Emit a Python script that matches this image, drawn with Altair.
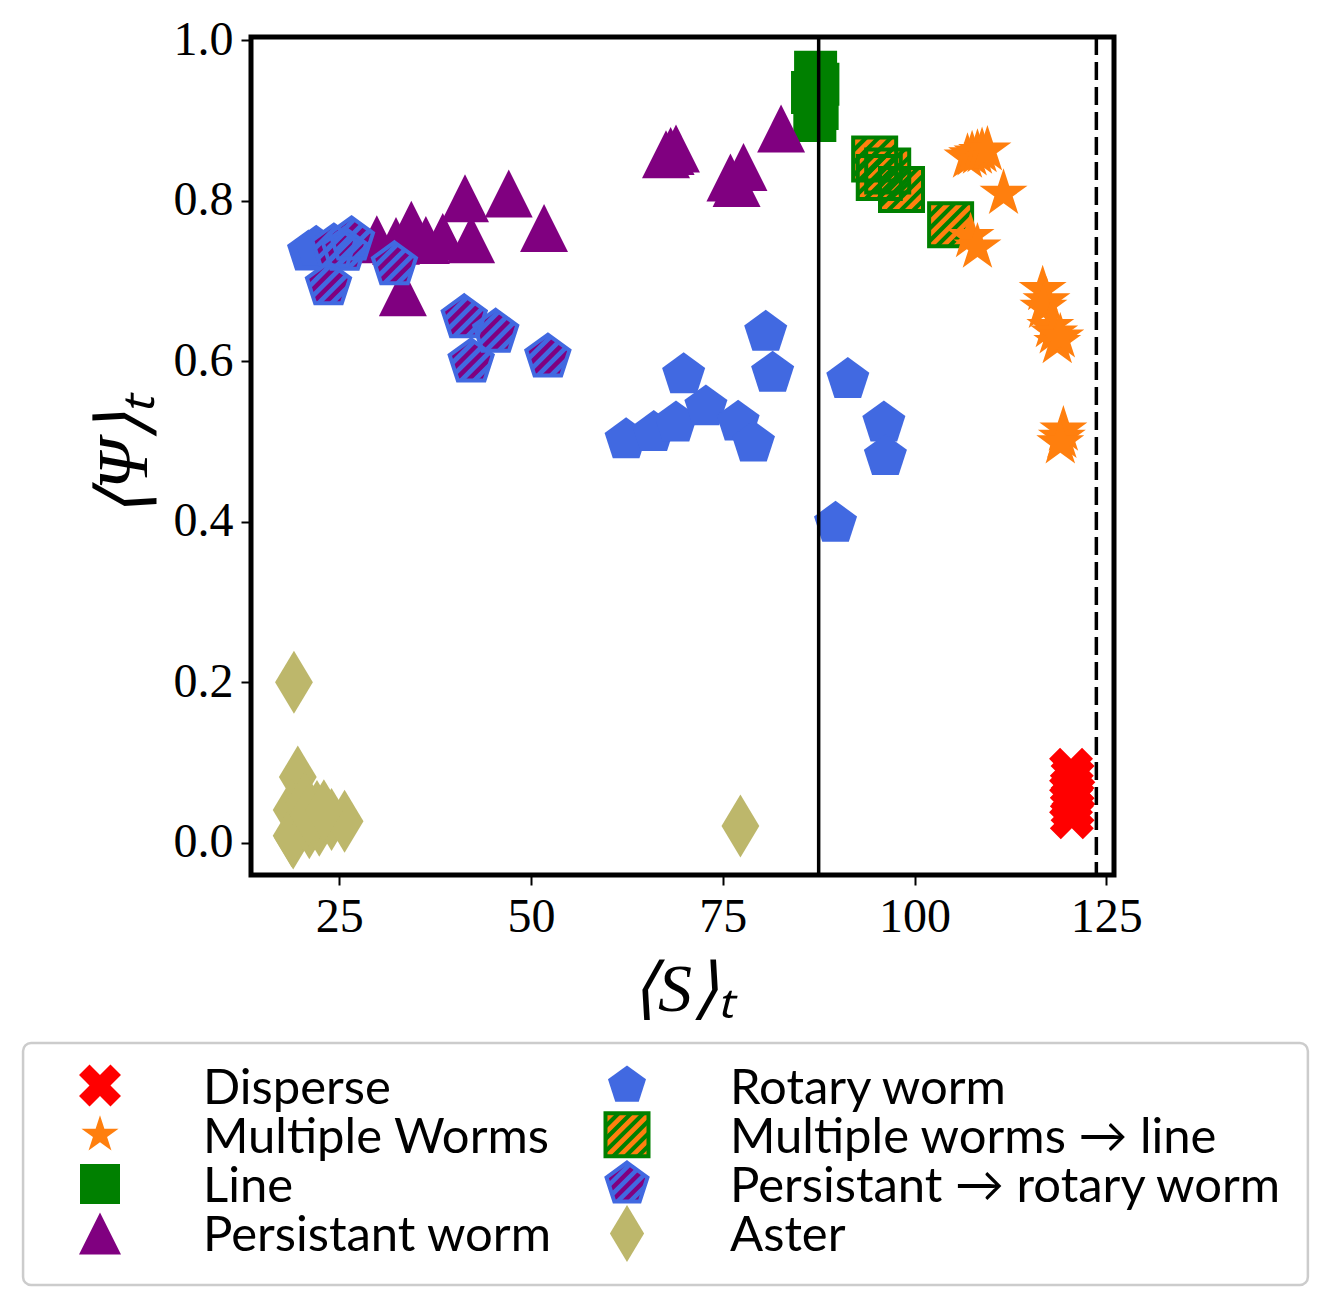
import math
import altair as alt
import pandas as pd

# ---------------- data ----------------
disperse_x = [120.4, 120.6, 120.5, 120.7, 120.4, 120.6, 120.5]
disperse_y = [0.091, 0.082, 0.070, 0.062, 0.052, 0.042, 0.032]

mworms_x = [106.9, 107.5, 108.2, 108.8, 109.5, 111.6, 107.3, 108.2, 116.7, 117.2, 116.8,
            117.7, 118.2, 118.6, 119.0, 119.4, 119.2, 119.0]
mworms_y = [0.854, 0.857, 0.859, 0.861, 0.863, 0.809, 0.755, 0.742, 0.689, 0.675, 0.667,
            0.643, 0.635, 0.623, 0.630, 0.514, 0.505, 0.498]

line_x = [87.1, 87.4, 86.7, 87.3, 87.0]
line_y = [0.960, 0.945, 0.935, 0.915, 0.900]

persist_x = [29.9, 34.4, 36.3, 38.5, 41.4, 42.2, 47.1, 51.7, 33.3, 32.4,
             68.2, 67.6, 68.9, 77.7, 76.0, 76.8, 82.6]
persist_y = [0.752, 0.770, 0.751, 0.755, 0.803, 0.752, 0.809, 0.766, 0.686, 0.750,
             0.862, 0.858, 0.865, 0.842, 0.829, 0.822, 0.890]

rotary_x = [80.6, 81.5, 69.9, 62.4, 66.0, 68.9, 72.8, 77.0, 79.0, 91.3, 96.0, 96.2, 89.7, 21.0, 22.0]
rotary_y = [0.636, 0.585, 0.583, 0.502, 0.511, 0.523, 0.543, 0.524, 0.498, 0.577, 0.523, 0.481, 0.398, 0.736, 0.742]

mw_line_x = [94.8, 95.4, 96.5, 98.3, 104.7]
mw_line_y = [0.852, 0.829, 0.837, 0.814, 0.770]

p_rot_x = [25.7, 24.3, 26.6, 23.6, 32.2, 41.3, 45.4, 42.2, 52.2]
p_rot_y = [0.738, 0.742, 0.751, 0.695, 0.720, 0.654, 0.636, 0.599, 0.605]

aster_x = [19.1, 19.6, 18.8, 19.0, 18.8, 21.1, 22.4, 24.0, 25.7, 22.1, 20.5, 21.0, 23.0, 77.3]
aster_y = [0.200, 0.082, 0.041, 0.006, 0.009, 0.019, 0.022, 0.029, 0.027, 0.039, 0.050, 0.035, 0.040, 0.021]

vline_solid = [87.5]
vline_dashed = [123.7]

x_ticks = [25, 50, 75, 100, 125]
y_ticks = [0.0, 0.2, 0.4, 0.6, 0.8, 1.0]

legend_labels = ["Disperse", "Multiple Worms", "Line", "Persistant worm",
                 "Rotary worm", "Multiple worms \u2192 line", "Persistant \u2192 rotary worm", "Aster"]
legend_col = [0, 0, 0, 0, 1, 1, 1, 1]
legend_row = [0, 1, 2, 3, 0, 1, 2, 3]
legend_box_col = [-0.146, 2.292]
legend_box_row = [-0.862, 4.047]

# ---------------- styles ----------------
RED, ORANGE, GREEN, PURPLE, BLUE, KHAKI = "#ff0000", "#ff7f0e", "#008000", "#800080", "#4169e1", "#bdb76b"
SERIF = "Liberation Serif"
SANS = "Lato"


def to_path(pts):
    return "M" + "L".join(f"{x:.4f},{y:.4f}" for x, y in pts) + "Z"


def clip(poly, a, b, d):
    out = []
    n = len(poly)
    for i in range(n):
        p, q = poly[i], poly[(i + 1) % n]
        fp = a * p[0] + b * p[1] - d
        fq = a * q[0] + b * q[1] - d
        if fp <= 0:
            out.append(p)
        if (fp < 0 < fq) or (fq < 0 < fp):
            t = fp / (fp - fq)
            out.append((p[0] + t * (q[0] - p[0]), p[1] + t * (q[1] - p[1])))
    return out


def hatch(poly, period, width, start):
    parts = []
    c = start
    while c < 2.2:
        band = clip(poly, -1, -1, -c)
        band = clip(band, 1, 1, c + width)
        if len(band) >= 3:
            parts.append(to_path(band))
        c += period
    return "".join(parts)


SQUARE = [(-1, -1), (1, -1), (1, 1), (-1, 1)]
PENT = [(math.cos(math.radians(-90 + 72 * k)), math.sin(math.radians(-90 + 72 * k))) for k in range(5)]
TRI = [(0, -1), (1, 1), (-1, 1)]
DIAM = [(0, -1), (0.6, 0), (0, 1), (-0.6, 0)]
STAR = []
for k in range(5):
    a1 = math.radians(-90 + 72 * k)
    a2 = math.radians(-90 + 36 + 72 * k)
    STAR.append((math.cos(a1), math.sin(a1)))
    STAR.append((0.382 * math.cos(a2), 0.382 * math.sin(a2)))
_plus = [(-1, -3), (1, -3), (1, -1), (3, -1), (3, 1), (1, 1), (1, 3), (-1, 3), (-1, 1), (-3, 1), (-3, -1), (-1, -1)]
_r = math.sqrt(2) / 2
XSH = [(((px - py) * _r) / 2.83, ((px + py) * _r) / 2.83) for px, py in _plus]

P_SQUARE, P_PENT, P_TRI, P_DIAM, P_STAR, P_X = map(to_path, [SQUARE, PENT, TRI, DIAM, STAR, XSH])
H_SQUARE = hatch(SQUARE, 0.58, 0.27, -2.1)
H_PENT = hatch(PENT, 0.58, 0.3, -2.1)

X_SCALE = alt.Scale(domain=[13.5, 126.0], nice=False, zero=False)
Y_SCALE = alt.Scale(domain=[-0.04, 1.004], nice=False, zero=False)

X_AXIS = alt.Axis(values=x_ticks, format="d", title="\u27e8S\u27e9\u209c", grid=False, domain=False,
                  tickColor="black", tickWidth=2, tickSize=10, labelFont=SERIF, labelFontSize=48,
                  labelColor="black", labelPadding=8, titleFont=SERIF, titleFontSize=68,
                  titleFontWeight="normal", titleFontStyle="italic", titleColor="black", titlePadding=15)
Y_AXIS = alt.Axis(values=y_ticks, format=".1f", title="\u27e8\u03a8\u27e9\u209c", grid=False, domain=False,
                  tickColor="black", tickWidth=2, tickSize=10, labelFont=SERIF, labelFontSize=48,
                  labelColor="black", labelPadding=8, titleFont=SERIF, titleFontSize=72,
                  titleFontWeight="normal", titleFontStyle="italic", titleColor="black", titlePadding=12)


def frame(xs, ys):
    return pd.DataFrame({"x": xs, "y": ys})


def pts(df, path, size, **mk):
    return alt.Chart(df).mark_point(shape=path, size=size, opacity=1, **mk).encode(
        x=alt.X("x:Q", scale=X_SCALE, axis=X_AXIS),
        y=alt.Y("y:Q", scale=Y_SCALE, axis=Y_AXIS),
    )


def filled(df, path, size, color):
    return pts(df, path, size, filled=True, color=color, strokeWidth=0)


def outline(df, path, size, color, w=4):
    return pts(df, path, size, filled=False, color=color, strokeWidth=w)


d_line = frame(line_x, line_y)
d_mwl = frame(mw_line_x, mw_line_y)
d_mw = frame(mworms_x, mworms_y)
d_dis = frame(disperse_x, disperse_y)
d_per = frame(persist_x, persist_y)
d_rot = frame(rotary_x, rotary_y)
d_prot = frame(p_rot_x, p_rot_y)
d_ast = frame(aster_x, aster_y)

S_SQ, S_PENT, S_TRI, S_STAR, S_X, S_DIAM = 1850, 2050, 2300, 2540, 1936, 3970

rule_solid = alt.Chart(pd.DataFrame({"x": vline_solid})).mark_rule(color="black", strokeWidth=3.5).encode(
    x=alt.X("x:Q", scale=X_SCALE, axis=X_AXIS))
rule_dash = alt.Chart(pd.DataFrame({"x": vline_dashed})).mark_rule(
    color="black", strokeWidth=3.5, strokeDash=[18, 7]).encode(x=alt.X("x:Q", scale=X_SCALE, axis=X_AXIS))

main = alt.layer(
    filled(d_line, P_SQUARE, S_SQ, GREEN),
    filled(d_mwl, P_SQUARE, S_SQ, ORANGE),
    filled(d_mwl, H_SQUARE, S_SQ, GREEN),
    outline(d_mwl, P_SQUARE, S_SQ, GREEN),
    filled(d_mw, P_STAR, S_STAR, ORANGE),
    filled(d_dis, P_X, S_X, RED),
    filled(d_per, P_TRI, S_TRI, PURPLE),
    filled(d_rot, P_PENT, S_PENT, BLUE),
    filled(d_prot, P_PENT, S_PENT, PURPLE),
    filled(d_prot, H_PENT, S_PENT, BLUE),
    outline(d_prot, P_PENT, S_PENT, BLUE),
    filled(d_ast, P_DIAM, S_DIAM, KHAKI),
    rule_solid,
    rule_dash,
)

# ---------------- legend (drawn below the plot with its own scales) ----------------
leg_df = pd.DataFrame({"label": legend_labels, "col": legend_col, "row": legend_row})
box_df = pd.DataFrame({"c0": [legend_box_col[0]], "c1": [legend_box_col[1]],
                       "r0": [legend_box_row[0]], "r1": [legend_box_row[1]]})
LX = alt.Scale(domain=[0, 1], range=[-151, 376], nice=False, zero=False)
LY = alt.Scale(domain=[0, 3], range=[1048.5, 1196.4], nice=False, zero=False)

leg_box = alt.Chart(box_df).mark_rect(fill="white", stroke="#cccccc", strokeWidth=2.5, cornerRadius=8).encode(
    x=alt.X("c0:Q", scale=LX, axis=None), x2="c1:Q",
    y=alt.Y("r0:Q", scale=LY, axis=None), y2="r1:Q")


def leg(label, path, size, **mk):
    return alt.Chart(leg_df).transform_filter(alt.datum.label == label).mark_point(
        shape=path, size=size, opacity=1, **mk).encode(
        x=alt.X("col:Q", scale=LX, axis=None), y=alt.Y("row:Q", scale=LY, axis=None))


def leg_f(label, path, size, color):
    return leg(label, path, size, filled=True, color=color, strokeWidth=0)


def leg_o(label, path, size, color):
    return leg(label, path, size, filled=False, color=color, strokeWidth=4)


leg_text = alt.Chart(leg_df).mark_text(align="left", baseline="alphabetic", dx=103, dy=18, font=SANS,
                                       fontSize=49, color="black").encode(
    x=alt.X("col:Q", scale=LX, axis=None), y=alt.Y("row:Q", scale=LY, axis=None), text="label:N")

legend = alt.layer(
    leg_box,
    leg_f(legend_labels[0], P_X, 1764, RED),
    leg_f(legend_labels[1], P_STAR, 1520, ORANGE),
    leg_f(legend_labels[2], P_SQUARE, 1600, GREEN),
    leg_f(legend_labels[3], P_TRI, 1764, PURPLE),
    leg_f(legend_labels[4], P_PENT, 1600, BLUE),
    leg_f(legend_labels[5], P_SQUARE, 1850, ORANGE),
    leg_f(legend_labels[5], H_SQUARE, 1850, GREEN),
    leg_o(legend_labels[5], P_SQUARE, 1850, GREEN),
    leg_f(legend_labels[6], P_PENT, 1850, PURPLE),
    leg_f(legend_labels[6], H_PENT, 1850, BLUE),
    leg_o(legend_labels[6], P_PENT, 1850, BLUE),
    leg_f(legend_labels[7], P_DIAM, 3250, KHAKI),
    leg_text,
)

chart = alt.layer(main, legend).resolve_scale(x="independent", y="independent").properties(
    width=863, height=838,
    view=alt.ViewBackground(stroke="black", strokeWidth=5, fill=None),
    padding={"left": 13, "top": 8, "right": 5, "bottom": 5},
)

chart.save("out.html", embed_options={"renderer": "svg", "actions": False})
